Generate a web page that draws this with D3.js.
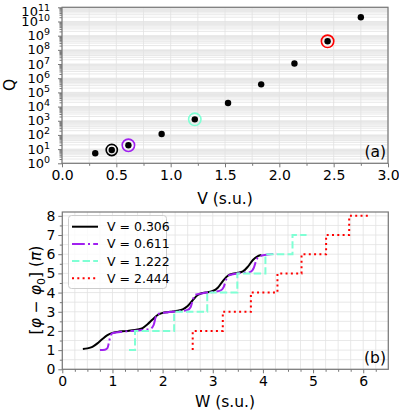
<!DOCTYPE html>
<html>
<head>
<meta charset="utf-8">
<script src="https://cdn.jsdelivr.net/npm/d3@7"></script>
<style>
  body { margin: 0; background: #fff; }
  svg text { font-family: "DejaVu Sans", sans-serif; fill: #000; }
</style>
</head>
<body>
<svg id="chart" width="399" height="412"></svg>
<script>
'use strict';

// panel (a): Q versus V
var vVals = [0.306, 0.458, 0.611, 0.917, 1.222, 1.528, 1.833, 2.139, 2.444, 2.75];
var qVals = [5.1, 8.7, 18.6, 117, 1260, 1.8e4, 3.7e5, 1.1e7, 4e8, 2e10];
var ringIdx = [1, 2, 4, 8];
var ringColors = ['#000000', '#a020f0', '#7fffd4', '#ff0000'];

// panel (b): phase staircases
var blackW = [0.41, 0.5, 0.6, 0.7, 0.8, 0.9, 1.0, 1.1, 1.2, 1.3, 1.4, 1.5, 1.6, 1.7, 1.8, 1.9, 2.0, 2.1, 2.2, 2.3, 2.4, 2.5, 2.6, 2.7, 2.8, 2.9, 3.0, 3.1, 3.2, 3.3, 3.4, 3.5, 3.6, 3.7, 3.8, 3.9, 3.97];
var blackPhi = [1.06, 1.09, 1.17, 1.35, 1.58, 1.78, 1.9, 1.95, 1.98, 2.0, 2.03, 2.08, 2.15, 2.35, 2.6, 2.83, 2.94, 2.98, 3.01, 3.05, 3.12, 3.3, 3.6, 3.87, 3.98, 4.02, 4.08, 4.25, 4.6, 4.88, 4.98, 5.03, 5.1, 5.35, 5.7, 5.9, 5.96];
var purpleW = [0.75, 0.85, 0.9, 0.93, 0.96, 1.0, 1.2, 1.4, 1.6, 1.75, 1.82, 1.86, 1.9, 2.1, 2.3, 2.5, 2.56, 2.6, 2.65, 2.8, 3.0, 3.15, 3.22, 3.27, 3.32, 3.5, 3.75, 3.82, 3.87, 3.92, 4.1, 4.27];
var purplePhi = [1.0, 1.02, 1.1, 1.4, 1.75, 1.88, 1.96, 2.0, 2.05, 2.1, 2.3, 2.7, 2.88, 2.97, 3.02, 3.1, 3.25, 3.6, 3.88, 3.97, 4.03, 4.1, 4.3, 4.7, 4.9, 5.0, 5.08, 5.3, 5.7, 5.88, 5.98, 6.02];
var cyanW = [1.33, 1.45, 2.23, 2.89, 3.49, 4.05, 4.59, 4.87];
var cyanPhi = [1, 2, 3, 4, 5, 6, 7, 7];
var redW = [2.6, 2.6, 3.2, 3.76, 4.29, 4.77, 5.26, 5.72, 6.1];
var redPhi = [1, 2, 3, 4, 5, 6, 7, 8, 8];
var legendLabels = ['V = 0.306', 'V = 0.611', 'V = 1.222', 'V = 2.444'];

var frameColor = '#777';
var gridColor = '#e2e2e2';

var svg = d3.select('#chart');

function zipXY(xs, ys) {
    return xs.map(function(x, i) { return [x, ys[i]]; });
}

function frame(g, x0, x1, y0, y1) {
    g.append('rect')
        .attr('x', x0).attr('y', y0)
        .attr('width', x1 - x0).attr('height', y1 - y0)
        .attr('fill', 'none')
        .attr('stroke', frameColor)
        .attr('stroke-width', 1.2);
}

// ---------- panel (a) ----------
var ax = d3.scaleLinear().domain([0, 3]).range([62, 388]);
var ay = d3.scaleLog().domain([1, 1e11]).range([163.3, 7.3]);

var ga = svg.append('g');

var minorLog = [];
for (var k = 0; k < 11; k++) {
    for (var m = 1; m < 10; m++) minorLog.push(m * Math.pow(10, k));
}
minorLog.push(1e11);

ga.append('g').selectAll('line')
    .data(minorLog)
  .enter().append('line')
    .attr('x1', ax(0)).attr('x2', ax(3))
    .attr('y1', function(d) { return ay(d); })
    .attr('y2', function(d) { return ay(d); })
    .attr('stroke', gridColor)
    .attr('stroke-width', 0.8);

ga.append('g').selectAll('line')
    .data(d3.range(0, 3.001, 0.25))
  .enter().append('line')
    .attr('x1', function(d) { return ax(d); })
    .attr('x2', function(d) { return ax(d); })
    .attr('y1', ay(1e11)).attr('y2', ay(1))
    .attr('stroke', gridColor)
    .attr('stroke-width', 0.8);

// x axis
var axX = ga.append('g')
    .attr('transform', 'translate(0,' + ay(1) + ')')
    .call(d3.axisBottom(ax).tickValues(d3.range(0, 3.001, 0.5)).tickFormat(d3.format('.1f')).tickSize(4).tickPadding(3));
ga.append('g')
    .attr('transform', 'translate(0,' + ay(1) + ')')
    .call(d3.axisBottom(ax).tickValues(d3.range(0.25, 3, 0.5)).tickFormat('').tickSize(2.5));

// y axis
ga.append('g')
    .attr('transform', 'translate(' + ax(0) + ',0)')
    .call(d3.axisLeft(ay).tickValues(d3.range(0, 12).map(function(e) { return Math.pow(10, e); })).tickFormat('').tickSize(4));
ga.append('g')
    .attr('transform', 'translate(' + ax(0) + ',0)')
    .call(d3.axisLeft(ay).tickValues(minorLog.filter(function(d) { return Math.abs(Math.log10(d) % 1) > 1e-6; })).tickFormat('').tickSize(2.5));

ga.selectAll('.domain').remove();
ga.selectAll('.tick line').attr('stroke', frameColor);
axX.selectAll('text').attr('font-size', '14px');

// decade labels 10^k, packed tight as in the original (top one pushed down a little)
var yLab = ga.append('g').selectAll('text')
    .data(d3.range(0, 12))
  .enter().append('text')
    .attr('x', 50)
    .attr('y', function(e) { return Math.max(ay(Math.pow(10, e)) + 4.5, 15.5); })
    .attr('text-anchor', 'end')
    .attr('font-size', '13px');
yLab.append('tspan').text('10');
yLab.append('tspan').attr('dy', -5).attr('font-size', '9.5px').text(function(e) { return e; });

frame(ga, ax(0), ax(3), ay(1e11), ay(1));

// points
ga.append('g').selectAll('circle')
    .data(zipXY(vVals, qVals))
  .enter().append('circle')
    .attr('cx', function(d) { return ax(d[0]); })
    .attr('cy', function(d) { return ay(d[1]); })
    .attr('r', 3.2)
    .attr('fill', '#000');

ga.append('g').selectAll('circle')
    .data(ringIdx)
  .enter().append('circle')
    .attr('cx', function(i) { return ax(vVals[i]); })
    .attr('cy', function(i) { return ay(qVals[i]); })
    .attr('r', function(i, j) { return j === 0 ? 5.6 : 6.2; })
    .attr('fill', 'none')
    .attr('stroke', function(i, j) { return ringColors[j]; })
    .attr('stroke-width', 1.6);

ga.append('text').attr('x', 225).attr('y', 204)
    .attr('text-anchor', 'middle').attr('font-size', '15.5px').text('V (s.u.)');
ga.append('text')
    .attr('transform', 'translate(15,85) rotate(-90)')
    .attr('text-anchor', 'middle').attr('font-size', '15.5px').text('Q');
ga.append('text').attr('x', 386).attr('y', 157)
    .attr('text-anchor', 'end').attr('font-size', '15.5px').text('(a)');

// ---------- panel (b) ----------
var bx = d3.scaleLinear().domain([0, 6.5]).range([62.3, 388.3]);
var by = d3.scaleLinear().domain([0, 8.2]).range([369.3, 212]);

var gb = svg.append('g');

gb.append('g').selectAll('line')
    .data(d3.range(0, 8.01, 0.5))
  .enter().append('line')
    .attr('x1', bx(0)).attr('x2', bx(6.5))
    .attr('y1', function(d) { return by(d); })
    .attr('y2', function(d) { return by(d); })
    .attr('stroke', gridColor)
    .attr('stroke-width', 0.8);

gb.append('g').selectAll('line')
    .data(d3.range(0, 6.501, 0.25))
  .enter().append('line')
    .attr('x1', function(d) { return bx(d); })
    .attr('x2', function(d) { return bx(d); })
    .attr('y1', by(8.2)).attr('y2', by(0))
    .attr('stroke', gridColor)
    .attr('stroke-width', 0.8);

var bxAxis = gb.append('g')
    .attr('transform', 'translate(0,' + by(0) + ')')
    .call(d3.axisBottom(bx).tickValues(d3.range(0, 7)).tickFormat(d3.format('d')).tickSize(4).tickPadding(3));
gb.append('g')
    .attr('transform', 'translate(0,' + by(0) + ')')
    .call(d3.axisBottom(bx).tickValues(d3.range(0.25, 6.5, 0.25).filter(function(d) { return d % 1 !== 0; })).tickFormat('').tickSize(2.5));
var byAxis = gb.append('g')
    .attr('transform', 'translate(' + bx(0) + ',0)')
    .call(d3.axisLeft(by).tickValues(d3.range(0, 9)).tickFormat(d3.format('d')).tickSize(4).tickPadding(3));
gb.append('g')
    .attr('transform', 'translate(' + bx(0) + ',0)')
    .call(d3.axisLeft(by).tickValues(d3.range(0.5, 8.2, 1)).tickFormat('').tickSize(2.5));

gb.selectAll('.domain').remove();
gb.selectAll('.tick line').attr('stroke', frameColor);
bxAxis.selectAll('text').attr('font-size', '14px');
byAxis.selectAll('text').attr('font-size', '14px');

frame(gb, bx(0), bx(6.5), by(8.2), by(0));

var smooth = d3.line()
    .x(function(d) { return bx(d[0]); })
    .y(function(d) { return by(d[1]); })
    .curve(d3.curveMonotoneX);
var steps = d3.line()
    .x(function(d) { return bx(d[0]); })
    .y(function(d) { return by(d[1]); })
    .curve(d3.curveStepAfter);

var series = [
    { pts: zipXY(blackW, blackPhi), gen: smooth, color: '#000000', dash: null },
    { pts: zipXY(purpleW, purplePhi), gen: smooth, color: '#a020f0', dash: '12.8,3.2,2,3.2' },
    { pts: zipXY(cyanW, cyanPhi), gen: steps, color: '#7fffd4', dash: '7.4,3.2' },
    { pts: zipXY(redW, redPhi), gen: steps, color: '#ff0000', dash: '2,3.3' }
];

series.forEach(function(s) {
    gb.append('path')
        .attr('d', s.gen(s.pts))
        .attr('fill', 'none')
        .attr('stroke', s.color)
        .attr('stroke-width', 2)
        .attr('stroke-dasharray', s.dash);
});

// legend
var lg = gb.append('g');
lg.append('rect')
    .attr('x', 68.5).attr('y', 215.5)
    .attr('width', 98).attr('height', 73)
    .attr('rx', 3)
    .attr('fill', '#fff').attr('fill-opacity', 0.8)
    .attr('stroke', '#ccc');
series.forEach(function(s, i) {
    var yy = 226.7 + i * 17.2;
    lg.append('line')
        .attr('x1', 72).attr('x2', 98)
        .attr('y1', yy).attr('y2', yy)
        .attr('stroke', s.color)
        .attr('stroke-width', 2)
        .attr('stroke-dasharray', s.dash);
    lg.append('text')
        .attr('x', 107).attr('y', yy + 4.5)
        .attr('font-size', '12.5px')
        .text(legendLabels[i]);
});

gb.append('text').attr('x', 225).attr('y', 407)
    .attr('text-anchor', 'middle').attr('font-size', '15.5px').text('W (s.u.)');
var phiLab = gb.append('text')
    .attr('transform', 'translate(41,290) rotate(-90)')
    .attr('text-anchor', 'middle').attr('font-size', '15.5px');
phiLab.append('tspan').text('[');
phiLab.append('tspan').attr('font-style', 'italic').text('\u03c6');
phiLab.append('tspan').text(' \u2212 ');
phiLab.append('tspan').attr('font-style', 'italic').text('\u03c6');
phiLab.append('tspan').attr('dy', 4).attr('font-size', '11px').text('0');
phiLab.append('tspan').attr('dy', -4).text('] (');
phiLab.append('tspan').attr('font-style', 'italic').text('\u03c0');
phiLab.append('tspan').text(')');
gb.append('text').attr('x', 386).attr('y', 363)
    .attr('text-anchor', 'end').attr('font-size', '15.5px').text('(b)');
</script>
</body>
</html>
